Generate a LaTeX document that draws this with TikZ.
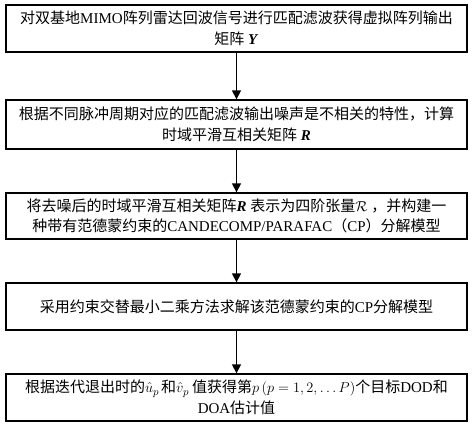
\documentclass[tikz,border=0pt]{standalone}
\usepackage{fontspec}
\setmainfont{Liberation Serif}
\newfontfamily\cjk{Noto Sans CJK SC}
\usetikzlibrary{arrows.meta}
\newcommand\zh[1]{{\cjk #1}}
\tikzset{
  stepbox/.style={draw=black, line width=1.3pt, minimum width=461pt, minimum height=47pt,
    align=center, inner sep=2pt, font=\fontsize{15}{20.5}\selectfont},
  flow/.style={draw=black, line width=1.4pt, -{Triangle[length=9pt,width=9pt]}}
}
\begin{document}
\begin{tikzpicture}[x=1pt,y=1pt]
\useasboundingbox (0,0) rectangle (474,-427);
\node[stepbox] (b1) at (236.5,-28.5) {\zh{对双基地}MIMO\zh{阵列雷达回波信号进行匹配滤波获得虚拟阵列输出}\\ \zh{矩阵} \textbf{\textit{Y}}};
\node[stepbox, minimum height=49pt] (b2) at (236.5,-124.5) {\zh{根据不同脉冲周期对应的匹配滤波输出噪声是不相关的特性，计算}\\ \zh{时域平滑互相关矩阵} \textbf{\textit{R}}};
\node[stepbox, minimum height=46pt] (b3) at (236.5,-216) {\zh{将去噪后的时域平滑互相关矩阵}\textbf{\textit{R}} \zh{表示为四阶张量}$\mathcal{R}$ \zh{，并构建一}\\ \zh{种带有范德蒙约束的}CANDECOMP/PARAFAC\zh{（}CP\zh{）分解模型}};
\node[stepbox] (b4) at (236.5,-306.5) {\zh{采用约束交替最小二乘方法求解该范德蒙约束的}CP\zh{分解模型}};
\node[stepbox] (b5) at (236.5,-397.5) {\zh{根据迭代退出时的}$\hat{u}_p$\kern2pt\zh{和}$\hat{v}_p$\kern3pt\zh{值获得第}$p\left(p=1,2,\ldots P\right)$\zh{个目标}DOD\zh{和}\\ DOA\zh{估计值}};
\draw[flow] (b1) -- (b2);
\draw[flow] (b2) -- (b3);
\draw[flow] (b3) -- (b4);
\draw[flow] (b4) -- (b5);
\end{tikzpicture}
\end{document}
